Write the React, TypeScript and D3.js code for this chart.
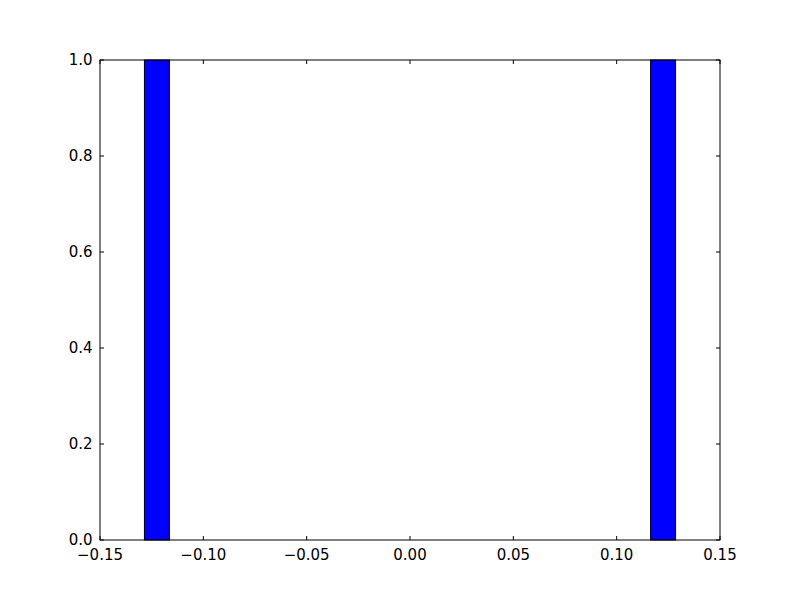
import React from "react";
import * as d3 from "d3";

const binStarts = [-0.1285, 0.1164];
const binEnds = [-0.1164, 0.1285];
const counts = [1, 1];
const xTicks = [-0.15, -0.1, -0.05, 0.0, 0.05, 0.1, 0.15];
const yTicks = [0, 0.2, 0.4, 0.6, 0.8, 1.0];

const W = 800, H = 600;
const L = 100, R = 720, T = 60, B = 540;

export default function App() {
  const x = d3.scaleLinear().domain([-0.15, 0.15]).range([L, R]);
  const y = d3.scaleLinear().domain([0, 1]).range([B, T]);
  const fmtX = (v: number) => {
    const s = v.toFixed(2);
    return s.replace("-", "\u2212");
  };
  const font = "DejaVu Sans, sans-serif";
  return (
    <svg width={W} height={H} style={{ position: "absolute", left: 0, top: 0, background: "white" }}>
      <rect x={0} y={0} width={W} height={H} fill="white" />
      {counts.map((c, i) => (
        <rect
          key={i}
          x={x(binStarts[i])}
          y={y(c)}
          width={x(binEnds[i]) - x(binStarts[i])}
          height={y(0) - y(c)}
          fill="#0000ff"
          stroke="black"
          strokeWidth={1}
        />
      ))}
      <rect x={L} y={T} width={R - L} height={B - T} fill="none" stroke="black" strokeWidth={1} />
      {xTicks.map((t, i) => (
        <g key={"x" + i}>
          <line x1={x(t)} x2={x(t)} y1={B} y2={B - 4} stroke="black" />
          <line x1={x(t)} x2={x(t)} y1={T} y2={T + 4} stroke="black" />
          <text x={x(t)} y={B + 20} textAnchor="middle" fontFamily={font} fontSize={15}>
            {fmtX(t)}
          </text>
        </g>
      ))}
      {yTicks.map((t, i) => (
        <g key={"y" + i}>
          <line x1={L} x2={L + 4} y1={y(t)} y2={y(t)} stroke="black" />
          <line x1={R} x2={R - 4} y1={y(t)} y2={y(t)} stroke="black" />
          <text x={L - 7.5} y={y(t)} dy="0.36em" textAnchor="end" fontFamily={font} fontSize={15}>
            {t.toFixed(1)}
          </text>
        </g>
      ))}
    </svg>
  );
}
